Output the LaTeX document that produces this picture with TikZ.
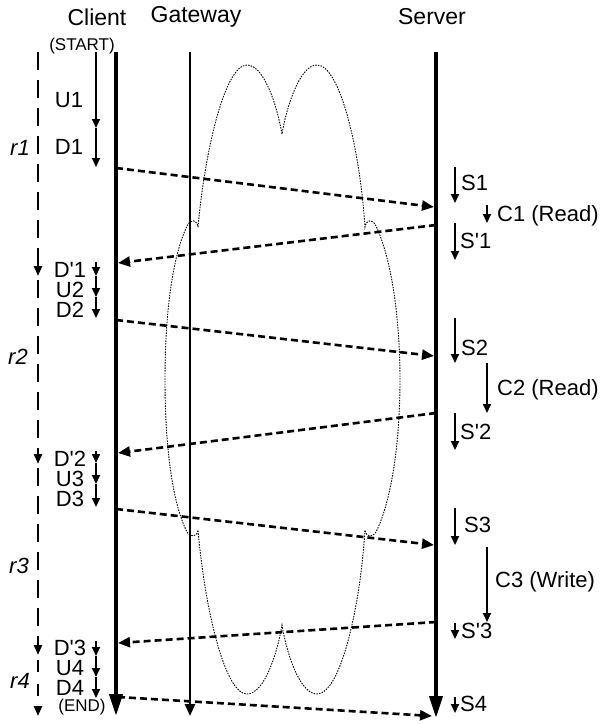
\documentclass[tikz,border=0pt]{standalone}
\usepackage{fontspec}
\setmainfont{Liberation Sans}
\newfontfamily\lsans{Liberation Sans}[Ligatures=TeXOff]
\usetikzlibrary{arrows.meta}
\begin{document}
\begin{tikzpicture}[x=1pt,y=-1pt,
  lbl/.style={inner sep=0pt,text height=15pt,text depth=0pt,font=\lsans\fontsize{22}{24}\selectfont},
  ttl/.style={inner sep=0pt,font=\lsans\fontsize{23}{26}\selectfont},
  sml/.style={inner sep=0pt,font=\lsans\fontsize{17}{19}\selectfont},
  rl/.style={inner sep=0pt,font=\lsans\fontsize{22}{24}\selectfont\itshape},
  thickline/.style={line width=4pt,-{Triangle[length=22pt,width=13pt]}},
  gwline/.style={line width=2.5pt,-{Triangle[length=12pt,width=10pt]}},
  stepar/.style={line width=2pt,-{Triangle[length=9pt,width=8pt]}},
  msg/.style={line width=2.6pt,dash pattern=on 7pt off 4pt,-{Triangle[length=12pt,width=10pt]}},
  rline/.style={line width=2.5pt,dash pattern=on 18pt off 10pt,-{Triangle[length=10pt,width=8pt]}},
  cloudline/.style={line width=0.9pt,dash pattern=on 1.5pt off 1.2pt}]
\useasboundingbox (0,0) rectangle (609,724);
% titles
\node[ttl] (tc) at (97,17) {Client};
\node[ttl] (tg) at (196,17) {Gateway};
\node[ttl] (ts) at (432,17) {Server};
\node[sml] (start) at (82,46) {(START)};
\node[sml] (end) at (82,707) {(END)};
% lifelines
\coordinate (ctop) at (116,52); \coordinate (cbot) at (116,716);
\coordinate (gtop) at (190,52); \coordinate (gbot) at (190,716);
\coordinate (stop) at (436,52); \coordinate (sbot) at (436,718);
% cloud
\draw[cloudline] (198,227) .. controls (205,150) and (225,65) .. (247,65)
  .. controls (265,65) and (278,110) .. (282,134)
  .. controls (286,110) and (299,65) .. (317,65)
  .. controls (340,65) and (360,150) .. (365,227)
  .. controls (366,220) and (372,218) .. (376,226)
  .. controls (392,260) and (400,320) .. (400,380)
  .. controls (400,440) and (392,500) .. (376,532)
  .. controls (372,538) and (366,537) .. (365,530)
  .. controls (360,610) and (340,694) .. (317,694)
  .. controls (299,694) and (286,650) .. (282,625)
  .. controls (278,650) and (265,694) .. (247,694)
  .. controls (225,694) and (205,610) .. (198,530)
  .. controls (197,537) and (191,538) .. (187,532)
  .. controls (171,500) and (165,440) .. (165,380)
  .. controls (165,320) and (171,260) .. (187,226)
  .. controls (191,218) and (197,220) .. (198,227) -- cycle;
\draw[thickline] (ctop) -- (cbot);
\draw[gwline] (gtop) -- (gbot);
\draw[thickline] (stop) -- (sbot);
% r line
\coordinate (r0) at (38,52); \coordinate (r1a) at (38,276);
\coordinate (r1b) at (38,280); \coordinate (r2a) at (38,464);
\coordinate (r2b) at (38,468); \coordinate (r3a) at (38,655);
\coordinate (r3b) at (38,660); \coordinate (r4a) at (38,716);
\draw[rline] (r0) -- (r1a);
\draw[rline] (r1b) -- (r2a);
\draw[rline] (r2b) -- (r3a);
\draw[rline,dash pattern=on 12pt off 12pt] (r3b) -- (r4a);
\node[rl] (lr1) at (20,148) {r1};
\node[rl] (lr2) at (18,357) {r2};
\node[rl] (lr3) at (19,566) {r3};
\node[rl] (lr4) at (20,681) {r4};
% client steps
\coordinate (a0) at (96,52); \coordinate (a1) at (96,128); \coordinate (a2) at (96,167);
\draw[stepar] (a0) -- (a1);
\draw[stepar] (a1) -- (a2);
\node[lbl] (u1) at (69,100) {U1};
\node[lbl] (d1) at (69,147) {D1};
\coordinate (b0) at (96,262); \coordinate (b1) at (96,276); \coordinate (b2) at (96,297); \coordinate (b3) at (96,318);
\draw[stepar] (b0) -- (b1); \draw[stepar] (b1) -- (b2); \draw[stepar] (b2) -- (b3);
\node[lbl] (dp1) at (70,270) {D'1};
\node[lbl] (u2) at (70,290) {U2};
\node[lbl] (d2) at (70,310) {D2};
\coordinate (e0) at (96,451); \coordinate (e1) at (96,463); \coordinate (e2) at (96,484); \coordinate (e3) at (96,507);
\draw[stepar] (e0) -- (e1); \draw[stepar] (e1) -- (e2); \draw[stepar] (e2) -- (e3);
\node[lbl] (dp2) at (70,459) {D'2};
\node[lbl] (u3) at (70,479) {U3};
\node[lbl] (d3) at (70,499) {D3};
\coordinate (f0) at (96,641); \coordinate (f1) at (96,656); \coordinate (f2) at (96,677); \coordinate (f3) at (96,698);
\draw[stepar] (f0) -- (f1); \draw[stepar] (f1) -- (f2); \draw[stepar] (f2) -- (f3);
\node[lbl] (dp3) at (70,648) {D'3};
\node[lbl] (u4) at (70,668) {U4};
\node[lbl] (d4) at (70,688) {D4};
% server steps
\draw[stepar] (455,167) -- (455,203);
\node[lbl,anchor=west] (s1) at (461,183) {S1};
\draw[stepar] (487,205) -- (487,223);
\node[lbl,anchor=west] (c1) at (497,214) {C1 (Read)};
\draw[stepar] (455,223) -- (455,260);
\node[lbl,anchor=west] (sp1) at (460,241) {S'1};
\draw[stepar] (455,318) -- (455,363);
\node[lbl,anchor=west] (s2) at (461,348) {S2};
\draw[stepar] (487,363) -- (487,413);
\node[lbl,anchor=west] (c2) at (497,388) {C2 (Read)};
\draw[stepar] (455,413) -- (455,450);
\node[lbl,anchor=west] (sp2) at (460,432) {S'2};
\draw[stepar] (455,508) -- (455,545);
\node[lbl,anchor=west] (s3) at (464,525) {S3};
\draw[stepar] (487,547) -- (487,622);
\node[lbl,anchor=west] (c3) at (495,580) {C3 (Write)};
\draw[stepar] (455,623) -- (455,639);
\node[lbl,anchor=west] (sp3) at (461,631) {S'3};
\draw[stepar] (455,697) -- (455,713);
\node[lbl,anchor=west] (s4) at (460,704) {S4};
% messages
\coordinate (m1a) at (116,168); \coordinate (m1b) at (434,207);
\coordinate (m2a) at (436,225); \coordinate (m2b) at (118,263);
\coordinate (m3a) at (116,320); \coordinate (m3b) at (434,356);
\coordinate (m4a) at (436,413); \coordinate (m4b) at (118,453);
\coordinate (m5a) at (116,509); \coordinate (m5b) at (434,545);
\coordinate (m6a) at (436,622); \coordinate (m6b) at (118,643);
\coordinate (m7a) at (118,697); \coordinate (m7b) at (432,716);
\draw[msg] (m1a) -- (m1b);
\draw[msg] (m2a) -- (m2b);
\draw[msg] (m3a) -- (m3b);
\draw[msg] (m4a) -- (m4b);
\draw[msg] (m5a) -- (m5b);
\draw[msg] (m6a) -- (m6b);
\draw[msg] (m7a) -- (m7b);
\end{tikzpicture}
\end{document}
